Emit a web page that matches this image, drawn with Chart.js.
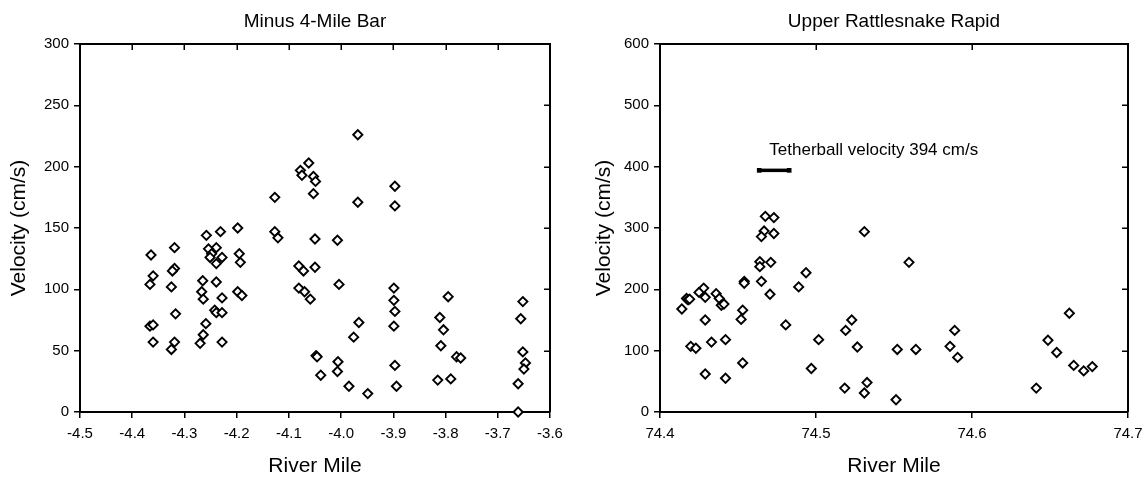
<!DOCTYPE html>
<html><head><meta charset="utf-8">
<script src="https://cdn.jsdelivr.net/npm/chart.js@4.4.0/dist/chart.umd.min.js"></script>
<style>
html,body{margin:0;padding:0;background:#fff;}
#wrap{position:relative;width:1146px;height:481px;overflow:hidden;background:#fff;}
.c{position:absolute;top:0;height:481px;width:573px;}
</style></head><body>
<div id="wrap">
<div class="c" style="left:0"><canvas id="left"></canvas></div>
<div class="c" style="left:573px"><canvas id="right"></canvas></div>
</div>
<script>
// ---- Data: Minus 4-Mile Bar ----
const leftTitle = 'Minus 4-Mile Bar';
const leftX = [-4.364,-4.360,-4.366,-4.366,-4.360,-4.360,-4.319,-4.319,-4.323,-4.325,-4.317,-4.319,-4.325,
  -4.258,-4.231,-4.239,-4.254,-4.248,-4.251,-4.228,-4.239,-4.265,-4.239,-4.267,-4.264,-4.228,-4.242,-4.239,-4.228,-4.259,-4.264,-4.270,-4.228,
  -4.198,-4.195,-4.193,-4.198,-4.190,-4.127,-4.127,-4.121,-4.078,-4.075,-3.968,-4.062,-4.053,-4.049,-4.053,
  -3.897,-3.968,-3.897,-4.050,-4.007,-4.081,-4.072,-4.050,-4.081,-4.070,-4.059,-4.004,
  -3.899,-3.899,-3.897,-3.899,-3.795,-3.811,-3.804,-3.809,-3.779,-3.771,-3.815,-3.790,
  -3.652,-3.656,-3.652,-3.647,-3.650,-3.661,-3.661,
  -3.966,-3.976,-4.048,-4.046,-4.039,-4.006,-4.007,-3.985,-3.949,-3.897,-3.894];
const leftY = [128,111,104,70,71,57,134,117,115,102,80,57,51,
  144,147,134,133,129,126,126,121,107,106,98,92,93,83,81,81,72,63,56,57,
  150,129,122,98,95,175,147,142,197,193,226,203,192,188,178,
  184,171,168,141,140,119,115,118,101,98,92,104,
  101,91,82,70,94,77,67,54,45,44,26,27,
  90,76,49,40,35,23,0,
  73,61,46,45,30,41,33,21,15,38,21];
const leftXTicks = {min:-4.5, max:-3.6, step:0.1};
const leftYTicks = {min:0, max:300, step:50};

// ---- Data: Upper Rattlesnake Rapid ----
const rightTitle = 'Upper Rattlesnake Rapid';
const rightX = [74.4675,74.473,74.4667,74.465,74.473,74.531,74.464,74.464,74.471,74.4936,
  74.414,74.417,74.418,74.419,74.428,74.425,74.429,74.436,74.438,74.4393,74.441,74.429,
  74.4197,74.423,74.433,74.442,74.429,74.442,74.454,74.454,74.453,74.452,74.453,
  74.465,74.4705,74.4806,74.4889,74.497,74.5017,74.519,74.5229,74.5265,74.5184,74.5327,74.531,
  74.5596,74.5521,74.564,74.5513,74.5889,74.5859,74.5908,
  74.6624,74.6487,74.6543,74.6652,74.6716,74.6771,74.6412];
const rightY = [319,317,295,286,291,294,245,237,244,227,
  168,185,183,184,202,195,187,193,185,174,176,150,
  107,104,114,118,62,55,213,210,166,151,80,
  213,192,142,204,71,118,133,150,106,39,48,31,
  244,102,102,20,133,107,89,
  161,117,97,76,67,74,39];
const rightXTicks = {min:74.4, max:74.7, step:0.1};
const rightYTicks = {min:0, max:600, step:100};
const tetherX = [74.4636, 74.4828];
const tetherY = [394, 394];
const tetherNote = 'Tetherball velocity 394 cm/s';
const tetherNoteX = 74.4701, tetherNoteY = 427;

const xAxisTitle = 'River Mile';
const yAxisTitle = 'Velocity (cm/s)';

// ---- Rendering ----
const FONT = "'Liberation Sans', Arial, Helvetica, sans-serif";
Chart.defaults.font.family = FONT;
Chart.defaults.color = '#000';

const framePlugin = {
  id: 'frame',
  beforeDatasetsDraw(chart) {
    const {ctx, chartArea: a, scales: {x, y}} = chart;
    ctx.save();
    ctx.strokeStyle = '#000';
    ctx.lineWidth = 2;
    ctx.beginPath();
    ctx.moveTo(a.left, a.top); ctx.lineTo(a.right, a.top); ctx.lineTo(a.right, a.bottom);
    ctx.stroke();
    ctx.lineWidth = 1.5;
    ctx.beginPath();
    x.ticks.forEach(t => { const px = Math.round(x.getPixelForValue(t.value)) + 0.25; ctx.moveTo(px, a.top); ctx.lineTo(px, a.top + 6); });
    y.ticks.forEach(t => { const py = Math.round(y.getPixelForValue(t.value)) + 0.25; ctx.moveTo(a.right, py); ctx.lineTo(a.right - 6, py); });
    ctx.stroke();
    ctx.restore();
  }
};

const headPlugin = {
  id: 'head',
  afterDraw(chart, args, opts) {
    if (!opts || !opts.text) return;
    const {ctx, chartArea: a} = chart;
    ctx.save();
    ctx.font = opts.size + 'px ' + FONT;
    ctx.fillStyle = '#000';
    ctx.textAlign = 'center';
    ctx.textBaseline = 'middle';
    ctx.fillText(opts.text, (a.left + a.right) / 2, opts.y);
    ctx.restore();
  }
};

const notePlugin = {
  id: 'note',
  afterDatasetsDraw(chart, args, opts) {
    if (!opts || !opts.text) return;
    const {ctx, scales: {x, y}} = chart;
    ctx.save();
    ctx.font = '17px ' + FONT;
    ctx.fillStyle = '#000';
    ctx.textAlign = 'left';
    ctx.textBaseline = 'middle';
    ctx.fillText(opts.text, x.getPixelForValue(opts.x), y.getPixelForValue(opts.y));
    ctx.restore();
  }
};

function makeChart(id, cfg) {
  const pts = cfg.xs.map((v, i) => ({x: v, y: cfg.ys[i]}));
  const datasets = [{
    type: 'scatter',
    data: pts,
    pointStyle: 'rectRot',
    pointRadius: 4.6,
    pointHoverRadius: 4.6,
    borderWidth: 1.9,
    borderColor: '#000',
    backgroundColor: '#fff',
    clip: false
  }];
  if (cfg.extra) datasets.push(cfg.extra);
  return new Chart(document.getElementById(id), {
    type: 'scatter',
    data: {datasets},
    plugins: [framePlugin, notePlugin, headPlugin],
    options: {
      responsive: true,
      maintainAspectRatio: false,
      animation: false,
      devicePixelRatio: 1,
      layout: {padding: {left: cfg.padLeft, right: cfg.padRight, top: 44, bottom: 0}},
      plugins: {
        legend: {display: false},
        tooltip: {enabled: false},
        title: {display: false},
        head: {text: cfg.title, size: 19, y: 22},
        note: cfg.note || {}
      },
      scales: {
        x: {
          type: 'linear', min: cfg.xt.min, max: cfg.xt.max,
          afterFit: s => { s.height = 69; s.paddingLeft = 0; s.paddingRight = 0; },
          ticks: {stepSize: cfg.xt.step, color: '#000', font: {size: 15}, padding: 7, maxRotation: 0,
            callback: v => Number(v).toFixed(1)},
          grid: {display: true, drawOnChartArea: false, drawTicks: true, tickLength: 6, color: '#000', lineWidth: 1.5},
          border: {display: true, color: '#000', width: 2},
          title: {display: true, text: xAxisTitle, color: '#000', font: {size: 21}, padding: {top: 0, bottom: 2}}
        },
        y: {
          type: 'linear', min: cfg.yt.min, max: cfg.yt.max,
          afterFit: s => { s.width = cfg.yWidth; s.paddingTop = 0; s.paddingBottom = 0; },
          ticks: {stepSize: cfg.yt.step, color: '#000', font: {size: 15}, padding: 5},
          grid: {display: true, drawOnChartArea: false, drawTicks: true, tickLength: 6, color: '#000', lineWidth: 1.5},
          border: {display: true, color: '#000', width: 2},
          title: {display: true, text: yAxisTitle, color: '#000', font: {size: 21}, padding: {top: 7, bottom: 0}}
        }
      }
    }
  });
}

makeChart('left', {xs: leftX, ys: leftY, xt: leftXTicks, yt: leftYTicks, title: leftTitle,
  padLeft: 0, padRight: 23, yWidth: 80});

makeChart('right', {xs: rightX, ys: rightY, xt: rightXTicks, yt: rightYTicks, title: rightTitle,
  padLeft: 12, padRight: 18, yWidth: 75,
  note: {text: tetherNote, x: tetherNoteX, y: tetherNoteY},
  extra: {type: 'line', data: tetherX.map((v, i) => ({x: v, y: tetherY[i]})), showLine: true,
    borderColor: '#000', borderWidth: 3.5, borderCapStyle: 'butt', fill: false,
    pointStyle: 'rect', pointRadius: 3.3, pointHoverRadius: 3.3, pointBorderWidth: 0,
    pointBackgroundColor: '#000', pointBorderColor: '#000', clip: false}});
</script>
</body></html>
